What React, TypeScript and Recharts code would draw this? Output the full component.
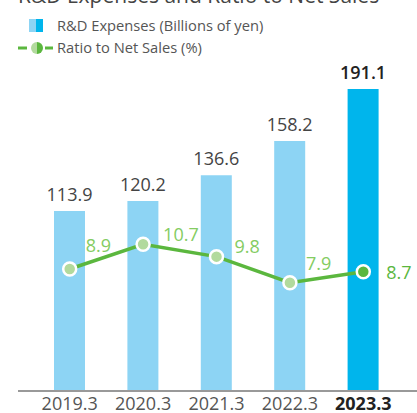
import React from 'react';
import { ComposedChart, Bar, Line, XAxis, YAxis, LabelList, Cell } from 'recharts';

const years = ['2019.3', '2020.3', '2021.3', '2022.3', '2023.3'];
const rdExpenses = [113.9, 120.2, 136.6, 158.2, 191.1];
const netSalesRatio = [8.9, 10.7, 9.8, 7.9, 8.7];
// label nudges for the ratio line, in px [dx, dy]
const ratioLabelOffsets = [
  [16, -24],
  [20, -10],
  [18, -11],
  [16, -20],
  [23, 0],
];

const data = years.map((year, i) => ({
  year,
  rd: rdExpenses[i],
  ratio: netSalesRatio[i],
}));

const FONT = '"Open Sans", sans-serif';
const LIGHT_BLUE = '#8dd4f4';
const BLUE = '#00b5ec';
const GREEN = '#5bb73e';
const LIGHT_GREEN_DOT = '#b2da9d';
const LIGHT_GREEN_TEXT = '#84cc62';
const last = years.length - 1;

const RatioDot = (props: any) => {
  const { cx, cy, index } = props;
  return (
    <circle
      key={`dot-${index}`}
      cx={cx}
      cy={cy}
      r={6.5}
      fill={index === last ? GREEN : LIGHT_GREEN_DOT}
      stroke="#ffffff"
      strokeWidth={2.5}
    />
  );
};

const RatioLabel = (props: any) => {
  const { x, y, value, index } = props;
  const [dx, dy] = ratioLabelOffsets[index];
  return (
    <text
      x={x + dx}
      y={y + dy}
      textAnchor="start"
      dominantBaseline="central"
      fontFamily={FONT}
      fontSize={18}
      fill={index === last ? GREEN : LIGHT_GREEN_TEXT}
    >
      {value}
    </text>
  );
};

const BarLabel = (props: any) => {
  const { x, y, width, value, index } = props;
  return (
    <text
      x={x + width / 2}
      y={y - 10}
      textAnchor="middle"
      fontFamily={FONT}
      fontSize={18}
      fontWeight={index === last ? 600 : 400}
      fill={index === last ? '#222' : '#444'}
    >
      {value}
    </text>
  );
};

const YearTick = (props: any) => {
  const { x, y, payload, index } = props;
  return (
    <text
      x={x}
      y={y}
      dy={13}
      textAnchor="middle"
      fontFamily={FONT}
      fontSize={18}
      fontWeight={index === last ? 700 : 400}
      fill={index === last ? '#222' : '#555'}
    >
      {payload.value}
    </text>
  );
};

export default function App() {
  return (
    <div style={{ position: 'absolute', left: 0, top: 0, width: 417, height: 413, background: '#fff', overflow: 'hidden', fontFamily: FONT }}>
      <div style={{ position: 'absolute', left: 18, top: -19, fontSize: 21, lineHeight: '28px', color: '#444', whiteSpace: 'nowrap' }}>
        R&amp;D Expenses and Ratio to Net Sales
      </div>

      {/* legend */}
      <div style={{ position: 'absolute', left: 29, top: 19, width: 14, height: 13, display: 'flex' }}>
        <div style={{ width: 7, height: 13, background: LIGHT_BLUE }} />
        <div style={{ width: 7, height: 13, background: BLUE }} />
      </div>
      <div style={{ position: 'absolute', left: 57, top: 15, fontSize: 14.7, lineHeight: '20px', color: '#555', whiteSpace: 'nowrap' }}>
        R&amp;D Expenses (Billions of yen)
      </div>
      <svg style={{ position: 'absolute', left: 16, top: 38 }} width={40} height={20}>
        <line x1={2} y1={10} x2={11} y2={10} stroke={GREEN} strokeWidth={3} />
        <line x1={29} y1={10} x2={37} y2={10} stroke={GREEN} strokeWidth={3} />
        <path d="M21 4 A6 6 0 0 0 21 16 Z" fill={LIGHT_GREEN_DOT} />
        <path d="M21 4 A6 6 0 0 1 21 16 Z" fill={GREEN} />
      </svg>
      <div style={{ position: 'absolute', left: 57, top: 37, fontSize: 14.7, lineHeight: '20px', color: '#555', whiteSpace: 'nowrap' }}>
        Ratio to Net Sales (%)
      </div>

      <ComposedChart
        width={417}
        height={413}
        data={data}
        margin={{ top: 75, right: 0, left: 18, bottom: 0 }}
        style={{ position: 'absolute', left: 0, top: 0 }}
      >
        <XAxis
          dataKey="year"
          xAxisId={0}
          height={22}
          axisLine={{ stroke: '#999', strokeWidth: 2 }}
          tickLine={false}
          tick={<YearTick />}
          tickMargin={0}
          padding={{ left: 15, right: 17 }}
          interval={0}
        />
        <YAxis yAxisId="rd" hide domain={[0, 200]} />
        <YAxis yAxisId="ratio" hide orientation="right" domain={[0, 23.05]} />
        <Bar dataKey="rd" yAxisId="rd" barSize={31} isAnimationActive={false}>
          {data.map((d, i) => (
            <Cell key={d.year} fill={i === last ? BLUE : LIGHT_BLUE} />
          ))}
          <LabelList dataKey="rd" content={<BarLabel />} />
        </Bar>
        <Line
          dataKey="ratio"
          yAxisId="ratio"
          type="linear"
          stroke={GREEN}
          strokeWidth={3.5}
          dot={<RatioDot />}
          activeDot={false}
          isAnimationActive={false}
        >
          <LabelList dataKey="ratio" content={<RatioLabel />} />
        </Line>
      </ComposedChart>
    </div>
  );
}
